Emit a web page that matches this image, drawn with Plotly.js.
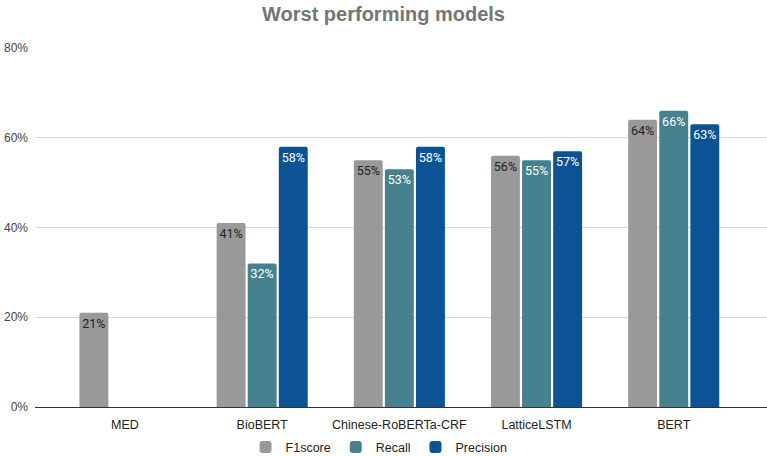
<!DOCTYPE html>
<html>
<head>
<meta charset="utf-8">
<script src="https://cdn.plot.ly/plotly-3.0.1.min.js"></script>
<style>
  html, body { margin: 0; padding: 0; background: #fff; }
  #chart { width: 767px; height: 456px; }
</style>
</head>
<body>
<div id="chart"></div>
<script>
const models = ["MED", "BioBERT", "Chinese-RoBERTa-CRF", "LatticeLSTM", "BERT"];
const f1score = [0.21, 0.41, 0.55, 0.56, 0.64];
const recall = [null, 0.32, 0.53, 0.55, 0.66];
const precision = [null, 0.58, 0.58, 0.57, 0.63];

const labelOf = v => (v == null ? "" : Math.round(v * 100) + "%");

function series(name, values, color, textColor) {
  return {
    type: "bar",
    name: name,
    x: models,
    y: values,
    marker: { color: color },
    text: values.map(labelOf),
    textposition: "inside",
    insidetextanchor: "end",
    textangle: 0,
    constraintext: "none",
    textfont: { family: "Roboto, sans-serif", size: 12.5, color: textColor },
    hoverinfo: "x+y+name"
  };
}

const data = [
  series("F1score", f1score, "#999999", "#222222"),
  series("Recall", recall, "#45818e", "#ffffff"),
  series("Precision", precision, "#0b5394", "#ffffff")
];

const layout = {
  width: 767,
  height: 456,
  paper_bgcolor: "#ffffff",
  plot_bgcolor: "#ffffff",
  margin: { l: 35, r: 0, t: 48, b: 49, autoexpand: false },
  font: { family: "Liberation Sans, Arial, sans-serif", size: 12, color: "#444444" },
  title: {
    text: "<b>Worst performing models</b>",
    x: 0.5, xanchor: "center",
    y: 0.985, yanchor: "top",
    font: { family: "Liberation Sans, Arial, sans-serif", size: 20, color: "#757575" }
  },
  barmode: "group",
  bargap: 0.32,
  bargroupgap: 0.07,
  barcornerradius: 2,
  xaxis: {
    type: "category",
    range: [-0.656, 4.68],
    showgrid: false,
    zeroline: false,
    showline: false,
    ticks: "",
    ticklabelstandoff: 8,
    tickfont: { size: 12.5, color: "#222222" },
    fixedrange: true
  },
  yaxis: {
    range: [0, 0.8],
    tickvals: [0, 0.2, 0.4, 0.6, 0.8],
    tickformat: ".0%",
    gridcolor: "#d9d9d9",
    gridwidth: 1,
    zeroline: true,
    zerolinecolor: "#333333",
    zerolinewidth: 1,
    showline: false,
    ticks: "",
    ticklabelstandoff: 6,
    tickfont: { size: 12, color: "#444444" },
    fixedrange: true
  },
  showlegend: true,
  legend: {
    orientation: "h",
    x: 0.47, xanchor: "center",
    y: -0.071, yanchor: "top",
    font: { size: 12.5, color: "#222222" },
    itemwidth: 30,
    traceorder: "normal"
  }
};

Plotly.newPlot("chart", data, layout, { displayModeBar: false, responsive: false });
</script>
</body>
</html>
